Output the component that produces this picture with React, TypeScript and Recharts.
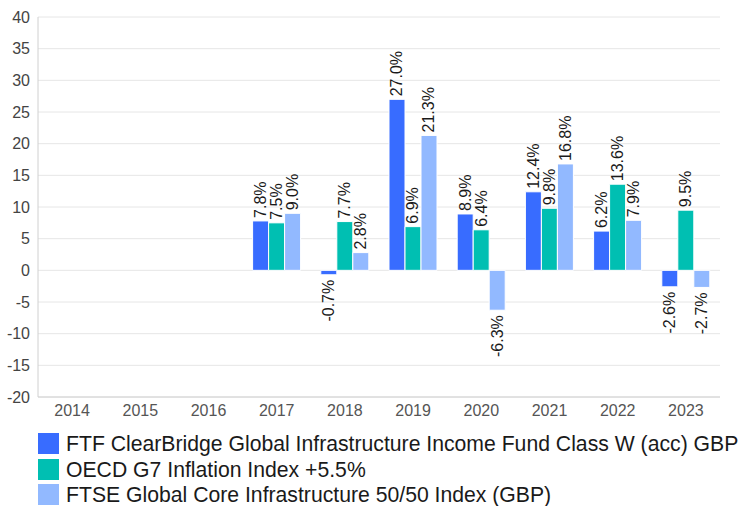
import { BarChart, Bar, XAxis, YAxis, CartesianGrid, Legend, LabelList } from 'recharts'

const years = ['2014', '2015', '2016', '2017', '2018', '2019', '2020', '2021', '2022', '2023']
const fundValues = [null, null, null, 7.8, -0.7, 27.0, 8.9, 12.4, 6.2, -2.6]
const inflationValues = [null, null, null, 7.5, 7.7, 6.9, 6.4, 9.8, 13.6, 9.5]
const ftseValues = [null, null, null, 9.0, 2.8, 21.3, -6.3, 16.8, 7.9, -2.7]
const yTicks = [-20, -15, -10, -5, 0, 5, 10, 15, 20, 25, 30, 35, 40]

const seriesNames = [
  'FTF ClearBridge Global Infrastructure Income Fund Class W (acc) GBP',
  'OECD G7 Inflation Index +5.5%',
  'FTSE Global Core Infrastructure 50/50 Index (GBP)',
]
const seriesColors = ['#386cff', '#00bfb2', '#92b9ff']

const data = years.map((year, i) => ({
  year,
  fund: fundValues[i],
  inflation: inflationValues[i],
  ftse: ftseValues[i],
}))

const FONT = '"Liberation Sans", Arial, sans-serif'

// rotated value label: above positive bars, below negative ones
function ValueLabel(props: any) {
  const { x, y, width, height, value } = props
  if (value === null || value === undefined) return null
  const cx = x + width / 2
  const top = Math.min(y, y + height)
  const bottom = Math.max(y, y + height)
  const positive = value >= 0
  const ty = positive ? top - 3 : bottom + 5
  return (
    <text
      x={cx}
      y={ty}
      transform={`rotate(-90, ${cx}, ${ty})`}
      textAnchor={positive ? 'start' : 'end'}
      dominantBaseline="central"
      fontSize={16}
      fontFamily={FONT}
      fill="#1a1a1a"
    >
      {`${value.toFixed(1)}%`}
    </text>
  )
}

function LegendBox() {
  return (
    <div style={{ height: 81, paddingLeft: 38, paddingTop: 6, boxSizing: 'border-box', fontFamily: FONT }}>
      {seriesNames.map((name, i) => (
        <div key={name} style={{ display: 'flex', alignItems: 'center', height: 25.5 }}>
          <div style={{ width: 21, height: 21, flexShrink: 0, background: seriesColors[i], marginRight: 7 }} />
          <span style={{ fontSize: 21.2, color: '#1a1a1a', whiteSpace: 'nowrap', lineHeight: '21px' }}>{name}</span>
        </div>
      ))}
    </div>
  )
}

export default function App() {
  return (
    <div style={{ position: 'absolute', left: 0, top: 0, width: 742, height: 506, background: '#fff', overflow: 'hidden' }}>
      <BarChart
        width={742}
        height={506}
        data={data}
        margin={{ top: 17, right: 22, left: 0, bottom: 0 }}
        barGap={0}
        barSize={16}
      >
        <CartesianGrid vertical={false} stroke="#e6e6e6" />
        <XAxis
          dataKey="year"
          height={28}
          tickLine={false}
          axisLine={{ stroke: '#d0d0d0' }}
          tick={{ fontSize: 16, fill: '#555', fontFamily: FONT }}
          tickSize={6}
          tickMargin={2}
        />
        <YAxis
          width={38}
          domain={[-20, 40]}
          ticks={yTicks}
          interval={0}
          tickLine={false}
          axisLine={{ stroke: '#d0d0d0' }}
          tick={{ fontSize: 16, fill: '#444', fontFamily: FONT }}
          tickSize={6}
          tickMargin={2}
        />
        <Legend verticalAlign="bottom" align="left" content={() => <LegendBox />} />
        <Bar dataKey="fund" name={seriesNames[0]} fill={seriesColors[0]} stroke="#fff" strokeWidth={1} isAnimationActive={false}>
          <LabelList dataKey="fund" content={ValueLabel} />
        </Bar>
        <Bar dataKey="inflation" name={seriesNames[1]} fill={seriesColors[1]} stroke="#fff" strokeWidth={1} isAnimationActive={false}>
          <LabelList dataKey="inflation" content={ValueLabel} />
        </Bar>
        <Bar dataKey="ftse" name={seriesNames[2]} fill={seriesColors[2]} stroke="#fff" strokeWidth={1} isAnimationActive={false}>
          <LabelList dataKey="ftse" content={ValueLabel} />
        </Bar>
      </BarChart>
    </div>
  )
}
